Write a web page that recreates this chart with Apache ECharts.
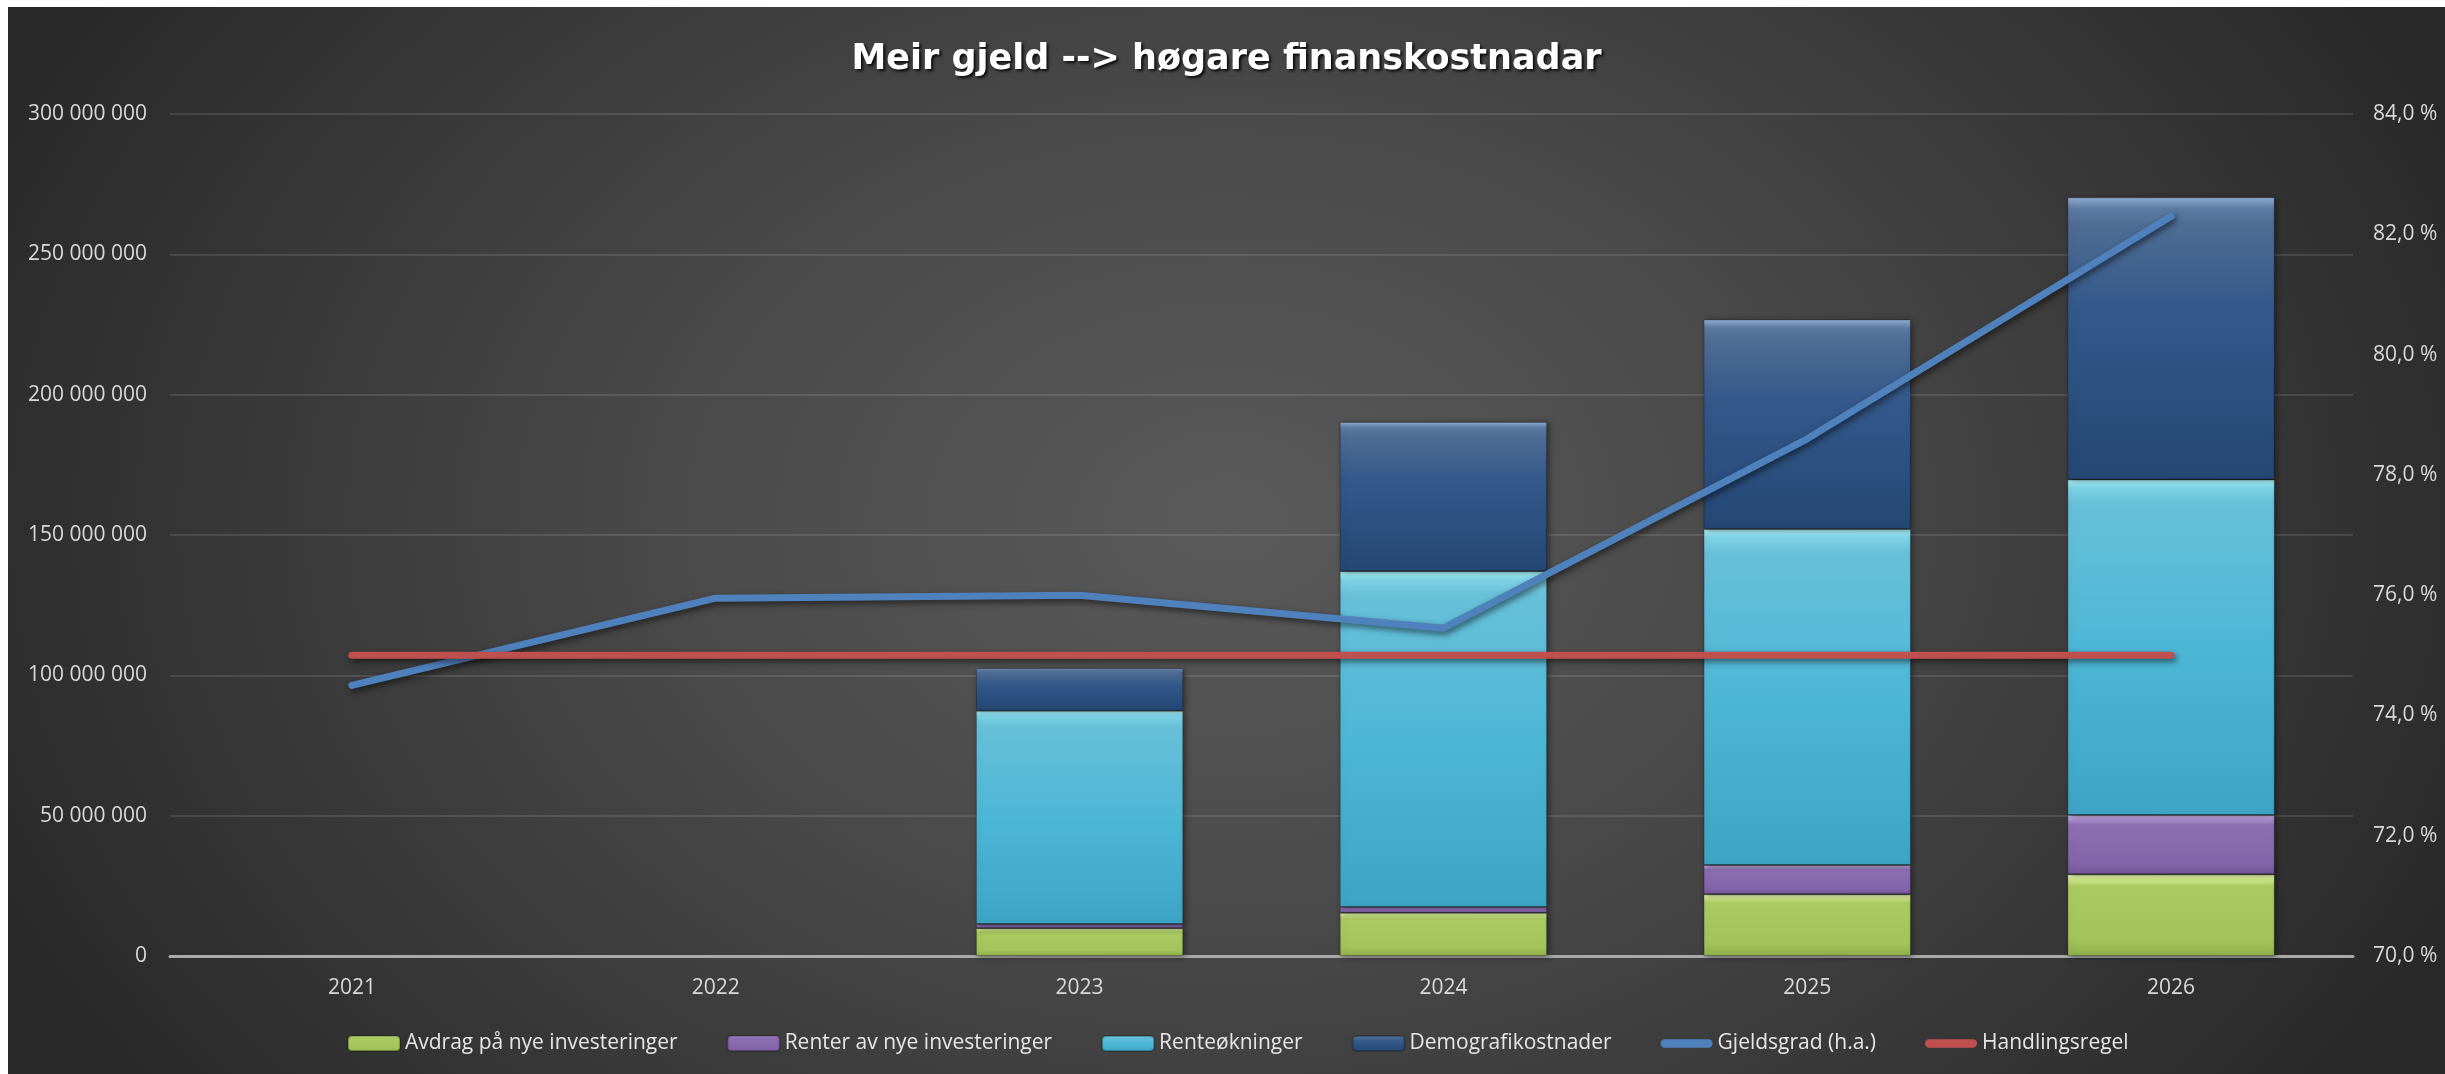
<!DOCTYPE html>
<html>
<head>
<meta charset="utf-8">
<script src="https://cdn.jsdelivr.net/npm/echarts@6/dist/echarts.min.js"></script>
<style>
  html, body { margin: 0; padding: 0; background: #ffffff; width: 2445px; height: 1074px; overflow: hidden; }
  #chart {
    position: absolute; left: 8px; top: 7px; width: 2437px; height: 1067px;
    background: radial-gradient(ellipse 56% 92% at 50% 48%, #5a5a5a 0%, #4a4a4a 40%, #282828 100%);
  }
</style>
</head>
<body>
<div id="chart"></div>
<script>
// ---- data ----
const years = ['2021', '2022', '2023', '2024', '2025', '2026'];
const avdrag = [0, 0, 9.9e6, 15.4e6, 22.0e6, 29.1e6];
const renter = [0, 0, 1.5e6, 2.1e6, 10.4e6, 21.1e6];
const renteokningar = [0, 0, 76.0e6, 119.6e6, 119.7e6, 119.6e6];
const demografi = [0, 0, 15.1e6, 53.2e6, 74.7e6, 100.5e6];
const gjeldsgrad = [74.5, 75.95, 76.0, 75.45, 78.6, 82.3];
const handlingsregel = [75, 75, 75, 75, 75, 75];
const seriesNames = ['Avdrag på nye investeringer', 'Renter av nye investeringer', 'Renteøkninger', 'Demografikostnader', 'Gjeldsgrad (h.a.)', 'Handlingsregel'];
const titleText = 'Meir gjeld --> høgare finanskostnadar';

const chart = echarts.init(document.getElementById('chart'), null, { renderer: 'canvas' });
const FONT = 'Open Sans';
const BLUE = '#4f81bd';
const RED = '#c0504d';

function grad(stops) {
  return new echarts.graphic.LinearGradient(0, 0, 0, 1, stops.map(s => ({ offset: s[0], color: s[1] })));
}
const greenFill = grad([[0, '#f2ffb8'], [0.05, '#d6ee95'], [0.14, '#aacb62'], [0.8, '#a2c45a'], [1, '#8fb04a']]);
const purpleFill = grad([[0, '#e2caff'], [0.06, '#b79bdc'], [0.16, '#8d6fb3'], [0.8, '#8465ab'], [1, '#735699']]);
const cyanFill = grad([[0, '#b2f8ff'], [0.025, '#7ed3e6'], [0.07, '#68c0d9'], [0.5, '#4db7d6'], [1, '#3da4c5']]);
const blueFill = grad([[0, '#93afd4'], [0.04, '#5c7aa3'], [0.1, '#4f6c94'], [0.4, '#33588a'], [1, '#244774']]);

function nz(arr) { return arr.map(v => (v === 0 ? '-' : v)); }

function barSeries(name, data, fill) {
  return {
    name: name, type: 'bar', stack: 'cost', data: nz(data),
    barWidth: '57%',
    itemStyle: {
      color: fill,
      borderColor: 'rgba(0,0,0,0.25)', borderWidth: 1,
      shadowColor: 'rgba(0,0,0,0.45)', shadowBlur: 6, shadowOffsetX: 2, shadowOffsetY: 1
    },
    emphasis: { disabled: true }
  };
}

function fmtThousands(v) {
  return String(Math.round(v)).replace(/\B(?=(\d{3})+(?!\d))/g, ' ');
}

const lineIcon = 'path://M4,0 L46,0 A4,4 0 0 1 46,8 L4,8 A4,4 0 0 1 4,0 Z';

const option = {
  animation: false,
  title: {
    text: titleText, left: 'center', top: 30,
    textStyle: {
      fontFamily: 'DejaVu Sans', fontWeight: 'bold', fontSize: 35, color: '#ffffff',
      textShadowColor: 'rgba(0,0,0,0.85)', textShadowBlur: 3, textShadowOffsetX: 2, textShadowOffsetY: 2
    }
  },
  legend: {
    data: [
      { name: seriesNames[0] },
      { name: seriesNames[1] },
      { name: seriesNames[2] },
      { name: seriesNames[3] },
      { name: seriesNames[4], icon: lineIcon, itemStyle: { color: BLUE } },
      { name: seriesNames[5], icon: lineIcon, itemStyle: { color: RED } }
    ],
    left: 334, top: 1021,
    itemWidth: 52, itemHeight: 15, itemGap: 49,
    textStyle: { fontFamily: FONT, fontSize: 21, color: '#e6e6e6' },
    selectedMode: false
  },
  grid: { left: 162, right: 92, top: 107, bottom: 118, containLabel: false },
  xAxis: {
    type: 'category', data: years,
    axisLine: { show: true, lineStyle: { color: '#a9a9a9', width: 3 } },
    axisTick: { show: false },
    axisLabel: { fontFamily: FONT, fontSize: 21, color: '#d9d9d9', margin: 22 }
  },
  yAxis: [
    {
      type: 'value', min: 0, max: 300e6, interval: 50e6,
      axisLine: { show: false }, axisTick: { show: false },
      axisLabel: { fontFamily: FONT, fontSize: 21, color: '#d9d9d9', margin: 23, formatter: fmtThousands },
      splitLine: { show: true, lineStyle: { color: 'rgba(255,255,255,0.11)', width: 2 } }
    },
    {
      type: 'value', min: 70, max: 84, interval: 2, position: 'right',
      axisLine: { show: false }, axisTick: { show: false },
      axisLabel: { fontFamily: FONT, fontSize: 21, color: '#d9d9d9', margin: 20,
        formatter: v => v.toFixed(1).replace('.', ',') + ' %' },
      splitLine: { show: false }
    }
  ],
  series: [
    barSeries(seriesNames[0], avdrag, greenFill),
    barSeries(seriesNames[1], renter, purpleFill),
    barSeries(seriesNames[2], renteokningar, cyanFill),
    barSeries(seriesNames[3], demografi, blueFill),
    {
      name: seriesNames[4], type: 'line', yAxisIndex: 1, data: gjeldsgrad,
      symbol: 'none', z: 5,
      lineStyle: { color: BLUE, width: 7, cap: 'round', join: 'round',
        shadowColor: 'rgba(0,0,0,0.55)', shadowBlur: 6, shadowOffsetX: 2, shadowOffsetY: 3 },
      itemStyle: { color: BLUE },
      emphasis: { disabled: true }
    },
    {
      name: seriesNames[5], type: 'line', yAxisIndex: 1, data: handlingsregel,
      symbol: 'none', z: 6,
      lineStyle: { color: RED, width: 7, cap: 'round', join: 'round',
        shadowColor: 'rgba(0,0,0,0.55)', shadowBlur: 6, shadowOffsetX: 2, shadowOffsetY: 3 },
      itemStyle: { color: RED },
      emphasis: { disabled: true }
    }
  ]
};
chart.setOption(option);
</script>
</body>
</html>
